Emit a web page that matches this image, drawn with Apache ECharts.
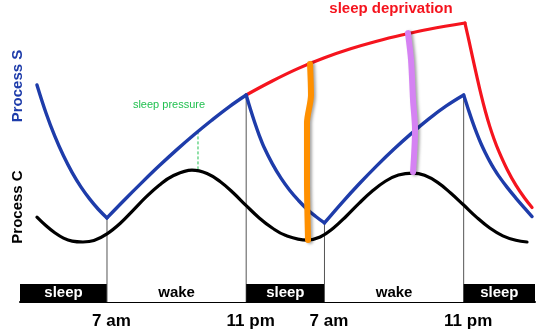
<!DOCTYPE html>
<html>
<head>
<meta charset="utf-8">
<script src="https://cdn.jsdelivr.net/npm/echarts@6/dist/echarts.min.js"></script>
<style>html,body{margin:0;padding:0;background:#fff}#c{width:539px;height:333px}</style>
</head>
<body>
<div id="c"></div>
<script>
// time axis in hours (7 am = 0)
const tMin = -10, tMax = 49.2;
const tickTimes = [0, 16, 25, 41];
const tickLabels = ['7 am', '11 pm', '7 am', '11 pm'];

// sleep / wake schedule bar
const segStart = [-10, 0, 16, 25, 41];
const segEnd = [0, 16, 25, 41, 49.2];
const segLabel = ['sleep', 'wake', 'sleep', 'wake', 'sleep'];

// Process S (homeostatic), split at sleep/wake transitions
const sNight1 = [[-8.05,71.1],[-7,61.0],[-6,52.8],[-5,45.8],[-4,39.8],[-3,34.7],[-2,30.4],[-1,26.7],[0,23.6]];
const sDay1 = [[0,23.6],[2,30.0],[4,36.2],[6,42.2],[8,47.9],[10,53.3],[12,58.4],[14,63.2],[16,67.5]];
const sNight2 = [[16,67.5],[16.5,62.3],[17,57.5],[17.5,53.1],[18,49.2],[19,43.0],[20,37.8],[21,33.5],[22,29.9],[23,26.7],[24,24.1],[25,21.8]];
const sDay2 = [[25,21.8],[27,29.0],[29,35.8],[31,42.2],[33,48.2],[35,53.8],[37,59.0],[39,63.6],[41,67.5]];
const sNight3 = [[41,67.5],[41.5,62.7],[42,58.1],[42.5,53.9],[43,50.1],[43.5,46.8],[44,43.8],[44.5,41.1],[45,38.7],[46,34.5],[47,30.7],[48,27.1],[48.86,24.1]];

// sleep deprivation (Process S without sleep)
const deprivationRise = [[16,67.5],[19,72.5],[22,77.0],[25,80.8],[28,84.0],[31,86.7],[34,89.0],[37,91.0],[41.15,93.2]];
const deprivationFall = [[41.15,93.2],[41.6,87.0],[42,81.3],[42.5,74.3],[43,67.6],[43.5,61.6],[44,56.3],[44.5,51.7],[45,47.7],[46,40.9],[47,35.3],[48,30.7],[48.86,27.3]];

// Process C (circadian)
const processC = [[-8.05,23.9],[-7,20.8],[-6,18.3],[-5,16.4],[-4,15.3],[-2.76,15.0],[-1.5,15.5],[0,17.9],[1.5,21.6],[3,26.3],[4.5,31.1],[6,35.3],[7.5,38.5],[9.77,40.7],[11.5,39.5],[13,36.6],[14.5,32.6],[16,28.0],[17.5,23.6],[19,20.0],[20.5,17.4],[22.99,15.7],[24.5,16.8],[26,19.9],[27.5,24.2],[29,28.9],[30.5,33.2],[32,36.7],[33.5,38.9],[35.18,39.6],[36.5,38.8],[38,36.3],[39.5,32.5],[41,28.2],[42.5,23.8],[44,20.0],[45.5,17.2],[47,15.6],[48.28,15.0]];

// hand-drawn markers
const orangeMark = [[23.34,78.6],[23.45,67.5],[22.99,57.5],[22.99,37.1],[23.11,15.7]];
const purpleMark = [[34.6,89.6],[34.95,80.0],[35.18,65.7],[35.41,55.0],[35.18,40.0]];

// sleep pressure gap
const pressureTime = 10.46;
const pressureS = 54.5, pressureC = 40.5;

// transition verticals (from Process S down to the bar)
const transitionTimes = [0, 16, 25, 41];
const transitionS = [23.6, 67.5, 21.8, 67.5];

const BLUE = '#1e3caa', RED = '#f5141e';
const FONT = '"Liberation Sans", Arial, sans-serif';

const chart = echarts.init(document.getElementById('c'), null, {renderer: 'canvas'});

function curve(data, color, width) {
  return {type: 'line', data: data, xAxisIndex: 0, yAxisIndex: 0, symbol: 'none', smooth: 0.4,
    lineStyle: {color: color, width: width, cap: 'round', join: 'round'}, silent: true, z: 3};
}

const series = [];
transitionTimes.forEach((t, i) => {
  series.push({type: 'line', data: [[t, transitionS[i]], [t, 0]], symbol: 'none', silent: true, z: 1,
    lineStyle: {color: '#555', width: 1}});
});
series.push({type: 'line', data: [[pressureTime, pressureS], [pressureTime, pressureC]], symbol: 'none', silent: true, z: 2,
  lineStyle: {color: '#22c050', width: 1, type: [3, 2]}});
series.push(curve(processC, '#000', 3.2));
series.push(curve(deprivationRise, RED, 3.2));
series.push(curve(deprivationFall, RED, 3.2));
[sNight1, sDay1, sNight2, sDay2, sNight3].forEach(s => series.push(curve(s, BLUE, 3.4)));
[[orangeMark, '#ff9000'], [purpleMark, '#d582f3']].forEach(([d, c]) => {
  series.push({type: 'line', data: d, symbol: 'none', smooth: 0.3, silent: true, z: 5,
    lineStyle: {color: c, width: 6, cap: 'round', join: 'round', shadowColor: 'rgba(0,0,0,0.35)', shadowBlur: 3, shadowOffsetX: 2, shadowOffsetY: 1}});
});

// sleep / wake bar
series.push({
  type: 'custom', xAxisIndex: 1, yAxisIndex: 1, silent: true, z: 2,
  data: segStart.map((s, i) => [s, segEnd[i], i]),
  renderItem: function (params, api) {
    const p0 = api.coord([api.value(0), 1]);
    const p1 = api.coord([api.value(1), 0]);
    const lbl = segLabel[api.value(2)];
    const sleep = lbl === 'sleep';
    const children = [{
      type: 'rect', shape: {x: p0[0], y: p0[1], width: p1[0] - p0[0], height: p1[1] - p0[1]},
      style: {fill: sleep ? '#000' : '#fff'}
    }];
    if (!sleep) {
      children.push({type: 'line', shape: {x1: p0[0], y1: p0[1], x2: p0[0], y2: p1[1]}, style: {stroke: '#555', lineWidth: 1}});
      children.push({type: 'line', shape: {x1: p1[0], y1: p0[1], x2: p1[0], y2: p1[1]}, style: {stroke: '#555', lineWidth: 1}});
    }
    children.push({
      type: 'text',
      style: {text: lbl, x: (p0[0] + p1[0]) / 2, y: (p0[1] + p1[1]) / 2, fill: sleep ? '#fff' : '#000',
        font: 'bold 15px ' + FONT, align: 'center', verticalAlign: 'middle'}
    });
    return {type: 'group', children: children};
  }
});

chart.setOption({
  animation: false,
  backgroundColor: '#fff',
  grid: [
    {left: 20, right: 4, top: 4, height: 280},
    {left: 20, right: 4, top: 284, height: 18}
  ],
  xAxis: [
    {type: 'value', gridIndex: 0, min: tMin, max: tMax, show: false},
    {type: 'value', gridIndex: 1, min: tMin, max: tMax,
      axisLine: {show: true, lineStyle: {color: '#000', width: 2}},
      axisTick: {show: false}, splitLine: {show: false},
      axisLabel: {
        customValues: tickTimes, margin: 11,
        formatter: function (v) { const i = tickTimes.indexOf(v); return i < 0 ? '' : '{l|' + tickLabels[i] + '}'; },
        rich: {l: {fontFamily: FONT, fontWeight: 'bold', fontSize: 17, color: '#000', padding: [0, 0, 0, 9]}}
      }}
  ],
  yAxis: [
    {type: 'value', gridIndex: 0, min: 0, max: 100, show: false},
    {type: 'value', gridIndex: 1, min: 0, max: 1, show: false}
  ],
  graphic: [
    {type: 'text', x: 18, y: 86, rotation: Math.PI / 2,
      style: {text: 'Process S', font: 'bold 15px ' + FONT, fill: BLUE, align: 'center', verticalAlign: 'middle'}},
    {type: 'text', x: 18, y: 207, rotation: Math.PI / 2,
      style: {text: 'Process C', font: 'bold 15px ' + FONT, fill: '#000', align: 'center', verticalAlign: 'middle'}},
    {type: 'text', x: 391, y: 9,
      style: {text: 'sleep deprivation', font: 'bold 15px ' + FONT, fill: RED, align: 'center', verticalAlign: 'middle'}},
    {type: 'text', x: 169, y: 105,
      style: {text: 'sleep pressure', font: '11px ' + FONT, fill: '#22c050', align: 'center', verticalAlign: 'middle'}}
  ],
  series: series
});
</script>
</body>
</html>
